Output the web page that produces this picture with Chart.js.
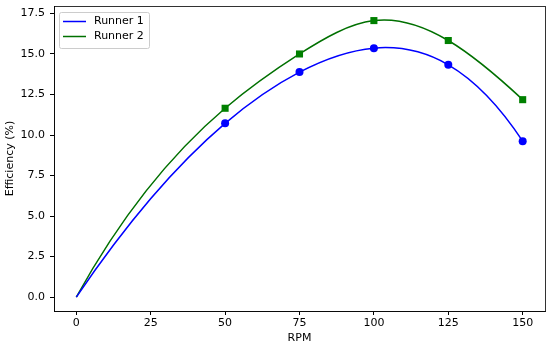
<!DOCTYPE html>
<html>
<head>
<meta charset="utf-8">
<script src="https://cdn.jsdelivr.net/npm/chart.js@4"></script>
<style>
  html, body { margin: 0; padding: 0; background: #fff; }
  #wrap { width: 550px; height: 347px; }
</style>
</head>
<body>
<div id="wrap"><canvas id="chart"></canvas></div>
<script>
const rpm = [0, 50, 75, 100, 125, 150];
const runner1 = [0, 10.72, 13.88, 15.36, 14.33, 9.62];
const runner2 = [0, 11.65, 15.0, 17.06, 15.83, 12.18];
const xTicks = [0, 25, 50, 75, 100, 125, 150];
const yTicks = [0, 2.5, 5, 7.5, 10, 12.5, 15, 17.5];

const font = { family: "DejaVu Sans", size: 11 };

// slopes of a not-a-knot cubic spline at each data point
function splineSlopes(xs, ys) {
  const n = xs.length;
  const h = [];
  for (let i = 0; i < n - 1; i++) h.push(xs[i + 1] - xs[i]);
  const A = [], b = [];
  for (let i = 0; i < n; i++) { A.push(new Array(n).fill(0)); b.push(0); }
  A[0][0] = h[1]; A[0][1] = -(h[0] + h[1]); A[0][2] = h[0];
  for (let i = 1; i < n - 1; i++) {
    A[i][i - 1] = h[i - 1];
    A[i][i] = 2 * (h[i - 1] + h[i]);
    A[i][i + 1] = h[i];
    b[i] = 6 * ((ys[i + 1] - ys[i]) / h[i] - (ys[i] - ys[i - 1]) / h[i - 1]);
  }
  A[n - 1][n - 3] = h[n - 2]; A[n - 1][n - 2] = -(h[n - 3] + h[n - 2]); A[n - 1][n - 1] = h[n - 3];
  // gaussian elimination
  for (let c = 0; c < n; c++) {
    let p = c;
    for (let r = c + 1; r < n; r++) if (Math.abs(A[r][c]) > Math.abs(A[p][c])) p = r;
    [A[c], A[p]] = [A[p], A[c]]; [b[c], b[p]] = [b[p], b[c]];
    for (let r = c + 1; r < n; r++) {
      const f = A[r][c] / A[c][c];
      for (let k = c; k < n; k++) A[r][k] -= f * A[c][k];
      b[r] -= f * b[c];
    }
  }
  const M = new Array(n).fill(0);
  for (let r = n - 1; r >= 0; r--) {
    let s = b[r];
    for (let k = r + 1; k < n; k++) s -= A[r][k] * M[k];
    M[r] = s / A[r][r];
  }
  const m = [];
  for (let i = 0; i < n - 1; i++) m.push((ys[i + 1] - ys[i]) / h[i] - h[i] * (2 * M[i] + M[i + 1]) / 6);
  const j = n - 2;
  m.push((ys[j + 1] - ys[j]) / h[j] + h[j] * (M[j] + 2 * M[j + 1]) / 6);
  return m;
}

// replace chart.js bezier control points with the spline's ones
const splinePlugin = {
  id: "spline",
  afterDatasetsUpdate(chart) {
    const xs = chart.scales.x, ysc = chart.scales.y;
    chart.data.datasets.forEach((ds, di) => {
      const meta = chart.getDatasetMeta(di);
      const vx = ds.data.map(p => p.x), vy = ds.data.map(p => p.y);
      const m = splineSlopes(vx, vy);
      meta.dataset.updateControlPoints(chart.chartArea, "x");
      meta.data.forEach((pt, i) => {
        if (i > 0) {
          const d = (vx[i] - vx[i - 1]) / 3;
          pt.cp1x = xs.getPixelForValue(vx[i] - d);
          pt.cp1y = ysc.getPixelForValue(vy[i] - m[i] * d);
        }
        if (i < vx.length - 1) {
          const d = (vx[i + 1] - vx[i]) / 3;
          pt.cp2x = xs.getPixelForValue(vx[i] + d);
          pt.cp2y = ysc.getPixelForValue(vy[i] + m[i] * d);
        }
      });
    });
  }
};

// top/right spines like matplotlib
const framePlugin = {
  id: "frame",
  afterDraw(chart) {
    const { ctx, chartArea: a } = chart;
    ctx.save();
    ctx.strokeStyle = "#000";
    ctx.lineWidth = 0.8;
    ctx.strokeRect(a.left + 0.5, a.top + 0.5, a.right - a.left, a.bottom - a.top);
    ctx.restore();
  }
};

// legend box inside the plot, upper left
const legendPlugin = {
  id: "innerLegend",
  afterDraw(chart) {
    const { ctx, chartArea: a } = chart;
    const x = a.left + 5, y = a.top + 6;
    ctx.save();
    ctx.fillStyle = "rgba(255,255,255,0.8)";
    ctx.strokeStyle = "#cccccc";
    ctx.lineWidth = 1;
    ctx.beginPath();
    ctx.roundRect(x + 0.5, y + 0.5, 90, 36, 2);
    ctx.fill();
    ctx.stroke();
    ctx.font = "11px 'DejaVu Sans'";
    ctx.textBaseline = "middle";
    chart.data.datasets.forEach((ds, i) => {
      const ly = y + 9.5 + i * 15;
      ctx.strokeStyle = ds.borderColor;
      ctx.lineWidth = 1.5;
      ctx.beginPath();
      ctx.moveTo(x + 4, ly);
      ctx.lineTo(x + 27, ly);
      ctx.stroke();
      ctx.fillStyle = "#000";
      ctx.fillText(ds.label, x + 35, ly);
    });
    ctx.restore();
  }
};

new Chart(document.getElementById("chart"), {
  type: "line",
  data: {
    datasets: [
      {
        label: "Runner 1",
        data: rpm.map((x, i) => ({ x, y: runner1[i] })),
        borderColor: "#0000ff",
        backgroundColor: "#0000ff",
        borderWidth: 1.5,
        pointStyle: "circle",
        pointRadius: rpm.map(x => (x === 0 ? 0 : 4)),
        pointBorderWidth: 0,
        tension: 0.4
      },
      {
        label: "Runner 2",
        data: rpm.map((x, i) => ({ x, y: runner2[i] })),
        borderColor: "#007000",
        backgroundColor: "#008000",
        borderWidth: 1.5,
        pointStyle: "rect",
        pointRadius: rpm.map(x => (x === 0 ? 0 : 5)),
        pointBorderWidth: 0,
        tension: 0.4
      }
    ]
  },
  options: {
    responsive: true,
    maintainAspectRatio: false,
    animation: false,
    layout: { padding: { top: 6, right: 4, left: 0, bottom: 0 } },
    plugins: { legend: { display: false }, tooltip: { enabled: false } },
    scales: {
      x: {
        type: "linear",
        min: -7.5,
        max: 157.5,
        afterBuildTicks(scale) { scale.ticks = xTicks.map(v => ({ value: v })); },
        afterFit(scale) { scale.height = 36; scale.paddingLeft = 0; scale.paddingRight = 0; },
        grid: { drawOnChartArea: false, tickLength: 4, color: "#000" },
        border: { color: "#000", width: 0.8 },
        ticks: { color: "#000", font, padding: 2, maxRotation: 0 },
        title: { display: true, text: "RPM", color: "#000", font, padding: { top: 0, bottom: 2 } }
      },
      y: {
        min: -0.86,
        max: 17.96,
        afterBuildTicks(scale) { scale.ticks = yTicks.map(v => ({ value: v })); },
        afterFit(scale) { scale.width = 54; scale.paddingTop = 0; scale.paddingBottom = 0; },
        grid: { drawOnChartArea: false, tickLength: 4, color: "#000" },
        border: { color: "#000", width: 0.8 },
        ticks: { color: "#000", font, padding: 5, callback: v => v.toFixed(1) },
        title: { display: true, text: "Efficiency (%)", color: "#000", font, padding: { top: 4, bottom: 0 } }
      }
    }
  },
  plugins: [splinePlugin, framePlugin, legendPlugin]
});
</script>
</body>
</html>
